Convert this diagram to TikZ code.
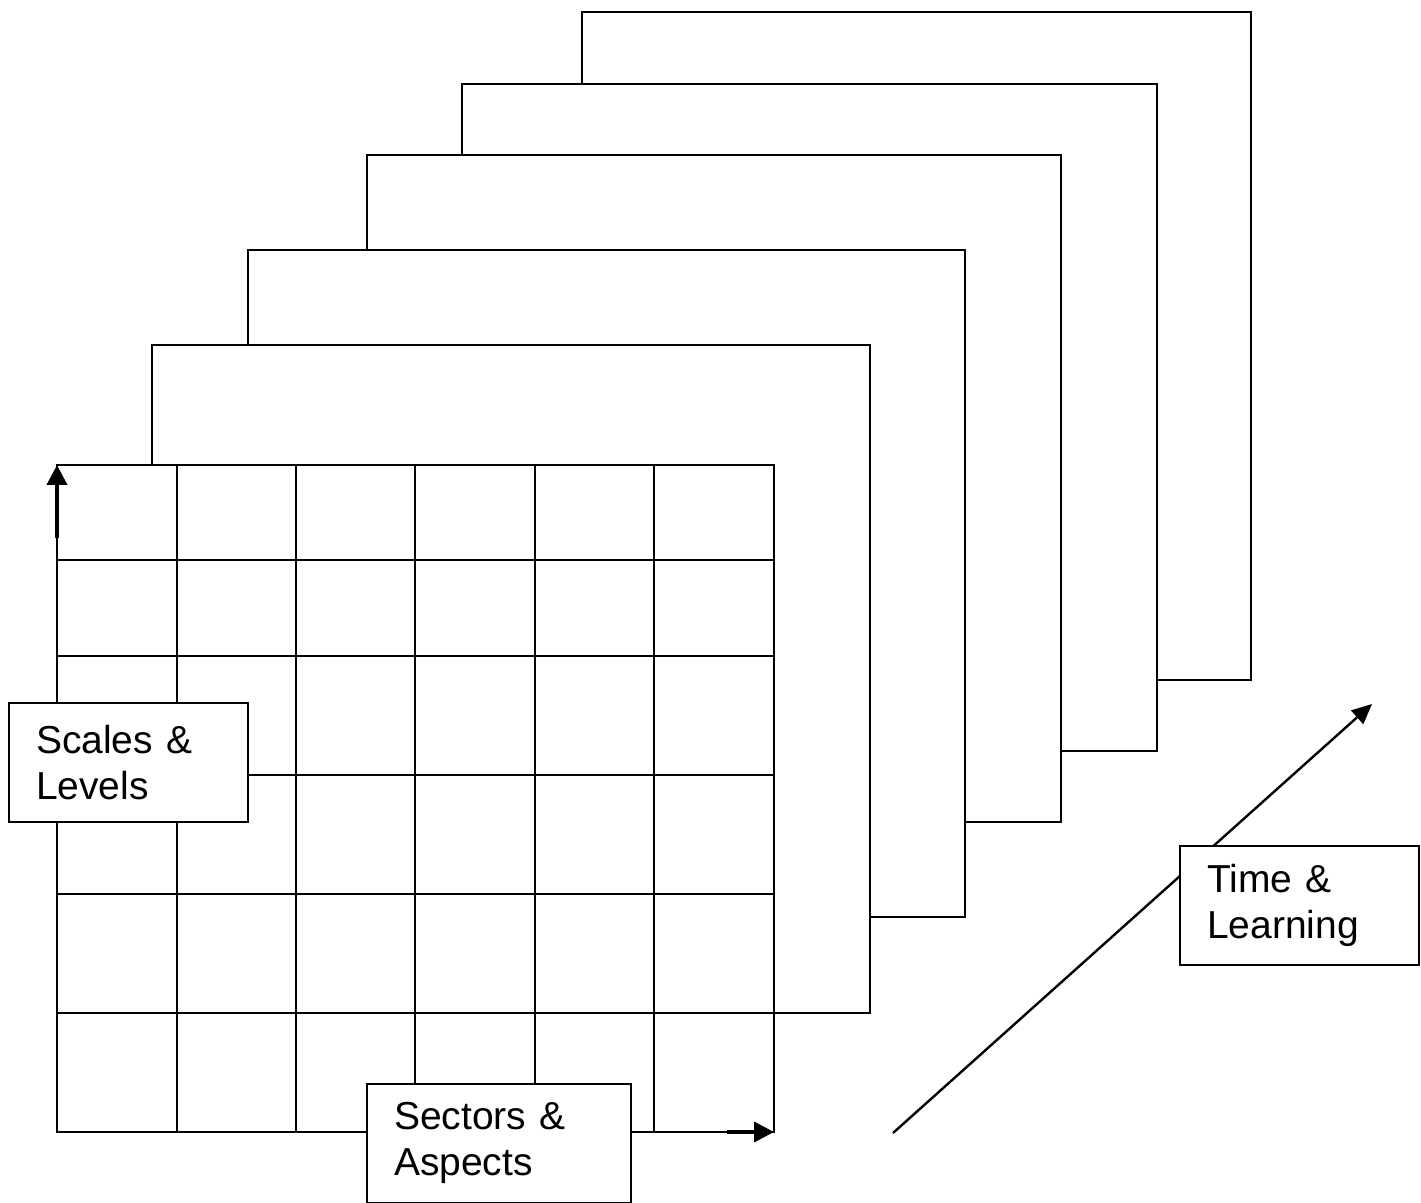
\documentclass[tikz,border=0pt]{standalone}
\usepackage{fontspec}
\setmainfont{Liberation Sans}
\usetikzlibrary{arrows.meta}
\begin{document}
\begin{tikzpicture}[x=0.5pt, y=-0.5pt,
                    sheet/.style = {draw, fill=white, line width=1pt},
                    gridline/.style = {line width=1pt},
                    namebox/.style = {draw, fill=white, line width=1pt, align=left, text width=92.5pt, inner xsep=13.5pt, minimum height=59.5pt, font=\fontsize{19.5}{23}\selectfont},
                    axisarrow/.style = {line width=2pt, -{Triangle[length=10pt, width=10pt]}},
                    timearrow/.style = {line width=1.2pt, -{Triangle[length=10pt, width=9pt]}}]
                    \useasboundingbox (0,0) rectangle (1421,1203);

                    % sheets, back to front
                    \draw[sheet] (582,12) rectangle (1251,680);
                    \draw[sheet] (462,84) rectangle (1157,751);
                    \draw[sheet] (367,155) rectangle (1061,822);
                    \draw[sheet] (248,250) rectangle (965,917);
                    \draw[sheet] (152,345) rectangle (870,1013);

                    % front grid
                    \draw[sheet] (57,465) rectangle (774,1132);
                    \draw[gridline] (177,465) -- (177,1132);
                    \draw[gridline] (296,465) -- (296,1132);
                    \draw[gridline] (415,465) -- (415,1132);
                    \draw[gridline] (535,465) -- (535,1132);
                    \draw[gridline] (654,465) -- (654,1132);
                    \draw[gridline] (57,560) -- (774,560);
                    \draw[gridline] (57,656) -- (774,656);
                    \draw[gridline] (57,775) -- (774,775);
                    \draw[gridline] (57,894) -- (774,894);
                    \draw[gridline] (57,1013) -- (774,1013);

                    \coordinate (nw) at (57,465);
                    \coordinate (se) at (774,1132);
                    \coordinate (up) at (57,538);
                    \coordinate (right) at (727,1132);
                    \coordinate (t0) at (893,1133);
                    \coordinate (t1) at (1372,704);

                    \draw[axisarrow] (up) -- (nw);
                    \draw[axisarrow] (right) -- (se);
                    \draw[timearrow] (t0) -- (t1);

                    \node[namebox] (scales) at (128.5,762.5) {Scales \&\\Levels};
                    \node[namebox, text width=105pt] (sectors) at (499,1143) {Sectors \&\\Aspects};
                    \node[namebox] (time) at (1299.5,905.5) {Time \&\\Learning};
                \end{tikzpicture}
\end{document}
